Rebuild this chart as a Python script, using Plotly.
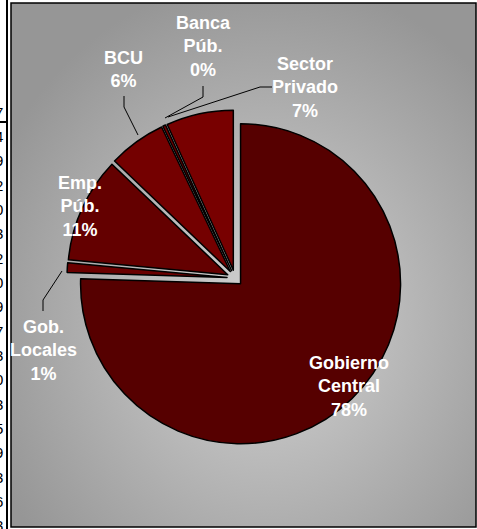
import base64
import plotly.graph_objects as go

W, H = 477, 529

# slices, clockwise from 12 o'clock
sectors = ["Gobierno<br>Central", "Gob.<br>Locales", "Emp.<br>Púb.", "BCU", "Banca<br>Púb.", "Sector<br>Privado"]
values = [78, 1, 11, 6, 0.3, 7]
slice_colors = ["#560000", "#6a0000", "#640000", "#740000", "#760000", "#780000"]

# leftover spreadsheet column cut by the chart's left edge
side_digits = ["7", "4", "9", "2", "0", "3", "2", "0", "9", "7", "3", "0", "3", "5", "9", "3", "6", "3"]


def px(x):
    return x / W


def py(y):
    return 1 - y / H


fig = go.Figure()

# pie box: centre (235, 278) px, half size 168 px
fig.add_trace(go.Pie(
    labels=[s.replace("<br>", " ") for s in sectors],
    values=values,
    sort=False,
    direction="clockwise",
    rotation=0,
    pull=[0.05] * len(values),
    marker=dict(colors=slice_colors, line=dict(color="black", width=1.5)),
    textinfo="none",
    hoverinfo="label+percent",
    showlegend=False,
    domain=dict(x=[px(235 - 168), px(235 + 168)], y=[py(278 + 168), py(278 - 168)]),
))

# label positions (px) and leader lines
label_pos = [(349, 386), (43, 350), (80, 207), (124, 70), (203, 47), (305, 87)]
leaders = [
    None,
    [(62, 271), (43, 300), (43, 311)],
    None,
    [(124, 96), (124, 107), (138, 135)],
    [(203, 86), (203, 97), (165, 118)],
    [(272, 87), (260, 87), (168, 117)],
]

annotations = []
for name, v, (lx, ly) in zip(sectors, values, label_pos):
    annotations.append(dict(
        x=px(lx), y=py(ly), xref="paper", yref="paper",
        text=f"<b>{name}<br>{round(v)}%</b>", showarrow=False,
        font=dict(family="Arial, Liberation Sans", size=18, color="white"),
        align="center", xanchor="center", yanchor="middle",
    ))

for i, d in enumerate(side_digits):
    annotations.append(dict(
        x=px(5), y=py(112 + i * 24.35), xref="paper", yref="paper",
        text=d, showarrow=False, xanchor="right", yanchor="middle",
        font=dict(family="Arial, Liberation Sans", size=15, color="black"),
    ))

shapes = []
for pts in leaders:
    if pts is None:
        continue
    path = "M " + " L ".join(f"{px(x)},{py(y)}" for x, y in pts)
    shapes.append(dict(type="path", path=path, xref="paper", yref="paper",
                       line=dict(color="black", width=1)))

# chart frame and cell borders
shapes.append(dict(type="rect", xref="paper", yref="paper",
                   x0=px(11), x1=px(476), y0=py(527), y1=py(3),
                   line=dict(color="black", width=1.5)))
shapes.append(dict(type="line", xref="paper", yref="paper",
                   x0=px(7), x1=px(7), y0=0, y1=1,
                   line=dict(color="black", width=2)))
shapes.append(dict(type="line", xref="paper", yref="paper",
                   x0=0, x1=px(8), y0=py(122), y1=py(122),
                   line=dict(color="black", width=2)))

bg_svg = (
    '<svg xmlns="http://www.w3.org/2000/svg" width="465" height="524">'
    '<defs><radialGradient id="g" cx="55%" cy="60%" r="65%">'
    '<stop offset="0" stop-color="#d4d4d4"/><stop offset="1" stop-color="#969696"/>'
    '</radialGradient></defs><rect width="100%" height="100%" fill="url(#g)"/></svg>'
)
bg_src = "data:image/svg+xml;base64," + base64.b64encode(bg_svg.encode()).decode()

fig.update_layout(
    width=W, height=H,
    margin=dict(l=0, r=0, t=0, b=0),
    paper_bgcolor="white",
    plot_bgcolor="white",
    annotations=annotations,
    shapes=shapes,
    images=[dict(source=bg_src, xref="paper", yref="paper",
                 x=px(11), y=py(3), sizex=px(476) - px(11), sizey=py(3) - py(527),
                 sizing="stretch", layer="below", xanchor="left", yanchor="top")],
)

# drop the page's default body margin so the figure sits at the window's corner
fig.write_html("out.html", config={"displayModeBar": False},
               post_script="document.body.style.margin = '0';")
